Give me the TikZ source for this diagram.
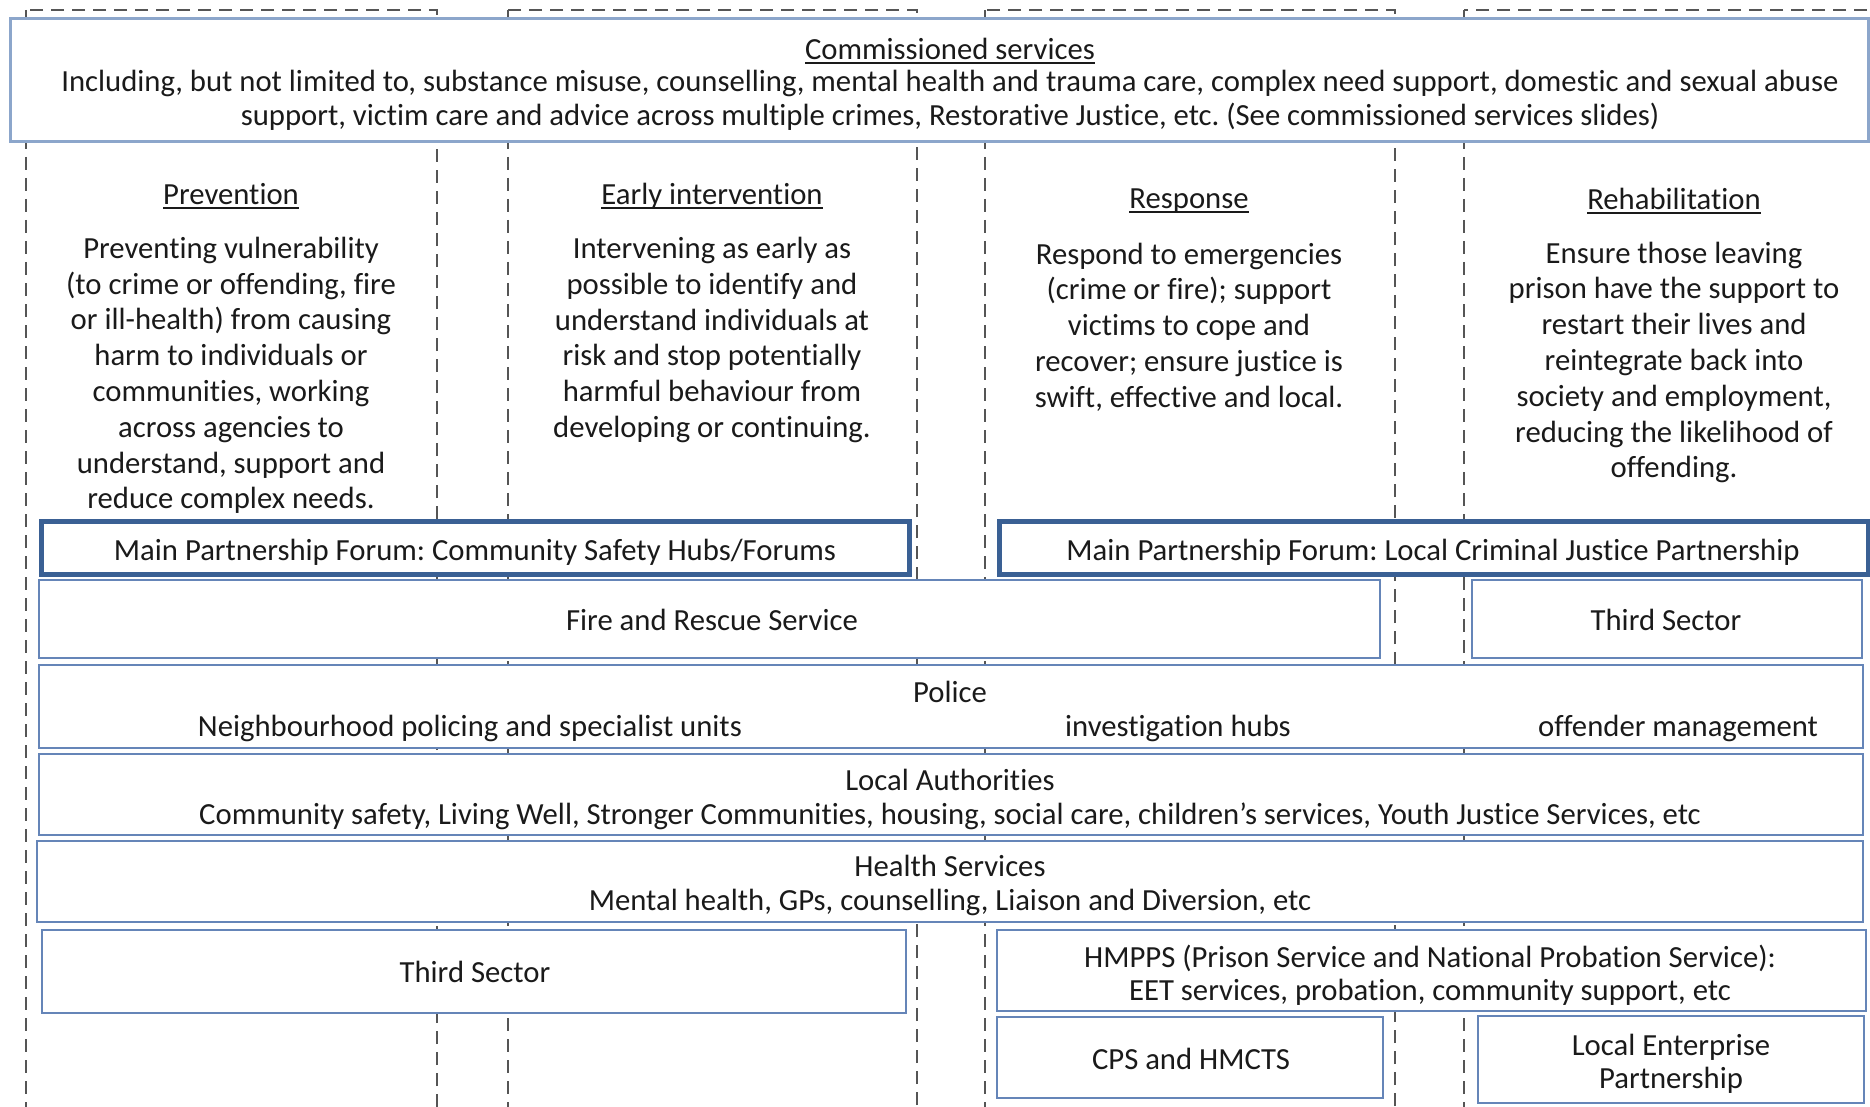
\documentclass[tikz,border=0pt]{standalone}
\usepackage{fontspec}
\setmainfont{Carlito}[Ligatures=NoCommon]
\frenchspacing
\definecolor{boxblue}{HTML}{6585B8}
\definecolor{mpfblue}{HTML}{3A6094}
\definecolor{commblue}{HTML}{8CA6CB}
\definecolor{dashgrey}{HTML}{555555}
\definecolor{txt}{HTML}{1A1A1A}
\newlength\ulw
\newcommand\myul[1]{\settowidth\ulw{#1}\rlap{\rule[-5pt]{\ulw}{2pt}}#1}
\tikzset{
  colframe/.style={draw=dashgrey, line width=2pt, dash pattern=on 13pt off 8pt},
  boxs/.style={draw=boxblue, line width=2pt, fill=white, inner sep=0pt},
  mpf/.style={draw=mpfblue, line width=5pt, fill=white, inner sep=0pt},
  comm/.style={draw=commblue, line width=3pt, fill=white, inner sep=0pt},
  lbl/.style={inner sep=0pt, text=txt, align=center, font=\fontsize{30.7}{33.4}\selectfont},
  lbldn/.style={lbl, yshift=-3pt},
  coltxt/.style={inner sep=0pt, text=txt, align=center, yshift=-3.5pt, font=\fontsize{30.7}{35.8}\selectfont},
}
\begin{document}
\begin{tikzpicture}[x=1pt, y=-1pt]
\useasboundingbox (0,0) rectangle (1870,1107);
\clip (0,0) rectangle (1870,1107);
\fill[white] (0,0) rectangle (1870,1107);
% dashed column frames
\draw[colframe] (26,10) rectangle (437,1130);
\draw[colframe] (508,10) rectangle (917,1130);
\draw[colframe] (985,10) rectangle (1395,1130);
\draw[colframe] (1464,10) rectangle (1900,1130);
% commissioned services
\node[comm, minimum width=1858pt, minimum height=123pt] (comm) at (939,80.5) {};
\node[lbldn] (commt) at (950,48) {\myul{Commissioned services}};
\node[lbldn] (comm2) at (950,97.5) {Including, but not limited to, substance misuse, counselling, mental health and trauma care, complex need support, domestic and sexual abuse\\support, victim care and advice across multiple crimes, Restorative Justice, etc. (See commissioned services slides)};
% column headings
\node[lbldn] (hprev) at (231,193) {\myul{Prevention}};
\node[lbldn] (hearly) at (712,193) {\myul{Early intervention}};
\node[lbldn] (hresp) at (1189,198) {\myul{Response}};
\node[lbldn] (hrehab) at (1674,198) {\myul{Rehabilitation}};
\node[coltxt] (tprev) at (231,372) {Preventing vulnerability\\(to crime or offending, fire\\or ill-health) from causing\\harm to individuals or\\communities, working\\across agencies to\\understand, support and\\reduce complex needs.};
\node[coltxt] (tearly) at (712,336.5) {Intervening as early as\\possible to identify and\\understand individuals at\\risk and stop potentially\\harmful behaviour from\\developing or continuing.};
\node[coltxt] (tresp) at (1189,323.5) {Respond to emergencies\\(crime or fire); support\\victims to cope and\\recover; ensure justice is\\swift, effective and local.};
\node[coltxt] (trehab) at (1674,359) {Ensure those leaving\\prison have the support to\\restart their lives and\\reintegrate back into\\society and employment,\\reducing the likelihood of\\offending.};
% main partnership forums
\node[mpf, minimum width=868pt, minimum height=53pt] (mpf1) at (475,547.5) {};
\node[lbldn] (mpf1t) at (475,549) {Main Partnership Forum: Community Safety Hubs/Forums};
\node[mpf, minimum width=869pt, minimum height=53pt] (mpf2) at (1433.5,547.5) {};
\node[lbldn] (mpf2t) at (1433,549) {Main Partnership Forum: Local Criminal Justice Partnership};
% fire / third sector
\node[boxs, minimum width=1341pt, minimum height=78pt] (fire) at (709.5,619) {};
\node[lbl] (firet) at (712,620) {Fire and Rescue Service};
\node[boxs, minimum width=390pt, minimum height=78pt] (third1) at (1667,619) {};
\node[lbl] (third1t) at (1666,620) {Third Sector};
% police
\node[boxs, minimum width=1824pt, minimum height=83pt] (police) at (951,706.5) {};
\node[lbl] (policet) at (950,692) {Police};
\node[lbl] (police1) at (470,728) {Neighbourhood policing and specialist units};
\node[lbl] (police2) at (1178,728) {investigation hubs};
\node[lbl] (police3) at (1678,728) {offender management};
% local authorities
\node[boxs, minimum width=1824pt, minimum height=81pt] (la) at (951,794.5) {};
\node[lbldn] (lat) at (950,796.5) {Local Authorities\\Community safety, Living Well, Stronger Communities, housing, social care, children’s services, Youth Justice Services, etc};
% health
\node[boxs, minimum width=1826pt, minimum height=81pt] (health) at (950,881.5) {};
\node[lbldn] (healtht) at (950,882.5) {Health Services\\Mental health, GPs, counselling, Liaison and Diversion, etc};
% third sector left
\node[boxs, minimum width=864pt, minimum height=83pt] (third2) at (474,971.5) {};
\node[lbl] (third2t) at (475,972) {Third Sector};
% HMPPS
\node[boxs, minimum width=869pt, minimum height=81pt] (hmpps) at (1431.5,970.5) {};
\node[lbldn] (hmppst) at (1430,972) {HMPPS (Prison Service and National Probation Service):\\EET services, probation, community support, etc};
% CPS
\node[boxs, minimum width=386pt, minimum height=81pt] (cps) at (1190,1057.5) {};
\node[lbl] (cpst) at (1191,1059) {CPS and HMCTS};
% LEP
\node[boxs, minimum width=386pt, minimum height=87pt] (lep) at (1671,1059.5) {};
\node[lbldn] (lept) at (1671,1061) {Local Enterprise\\Partnership};
\end{tikzpicture}
\end{document}
